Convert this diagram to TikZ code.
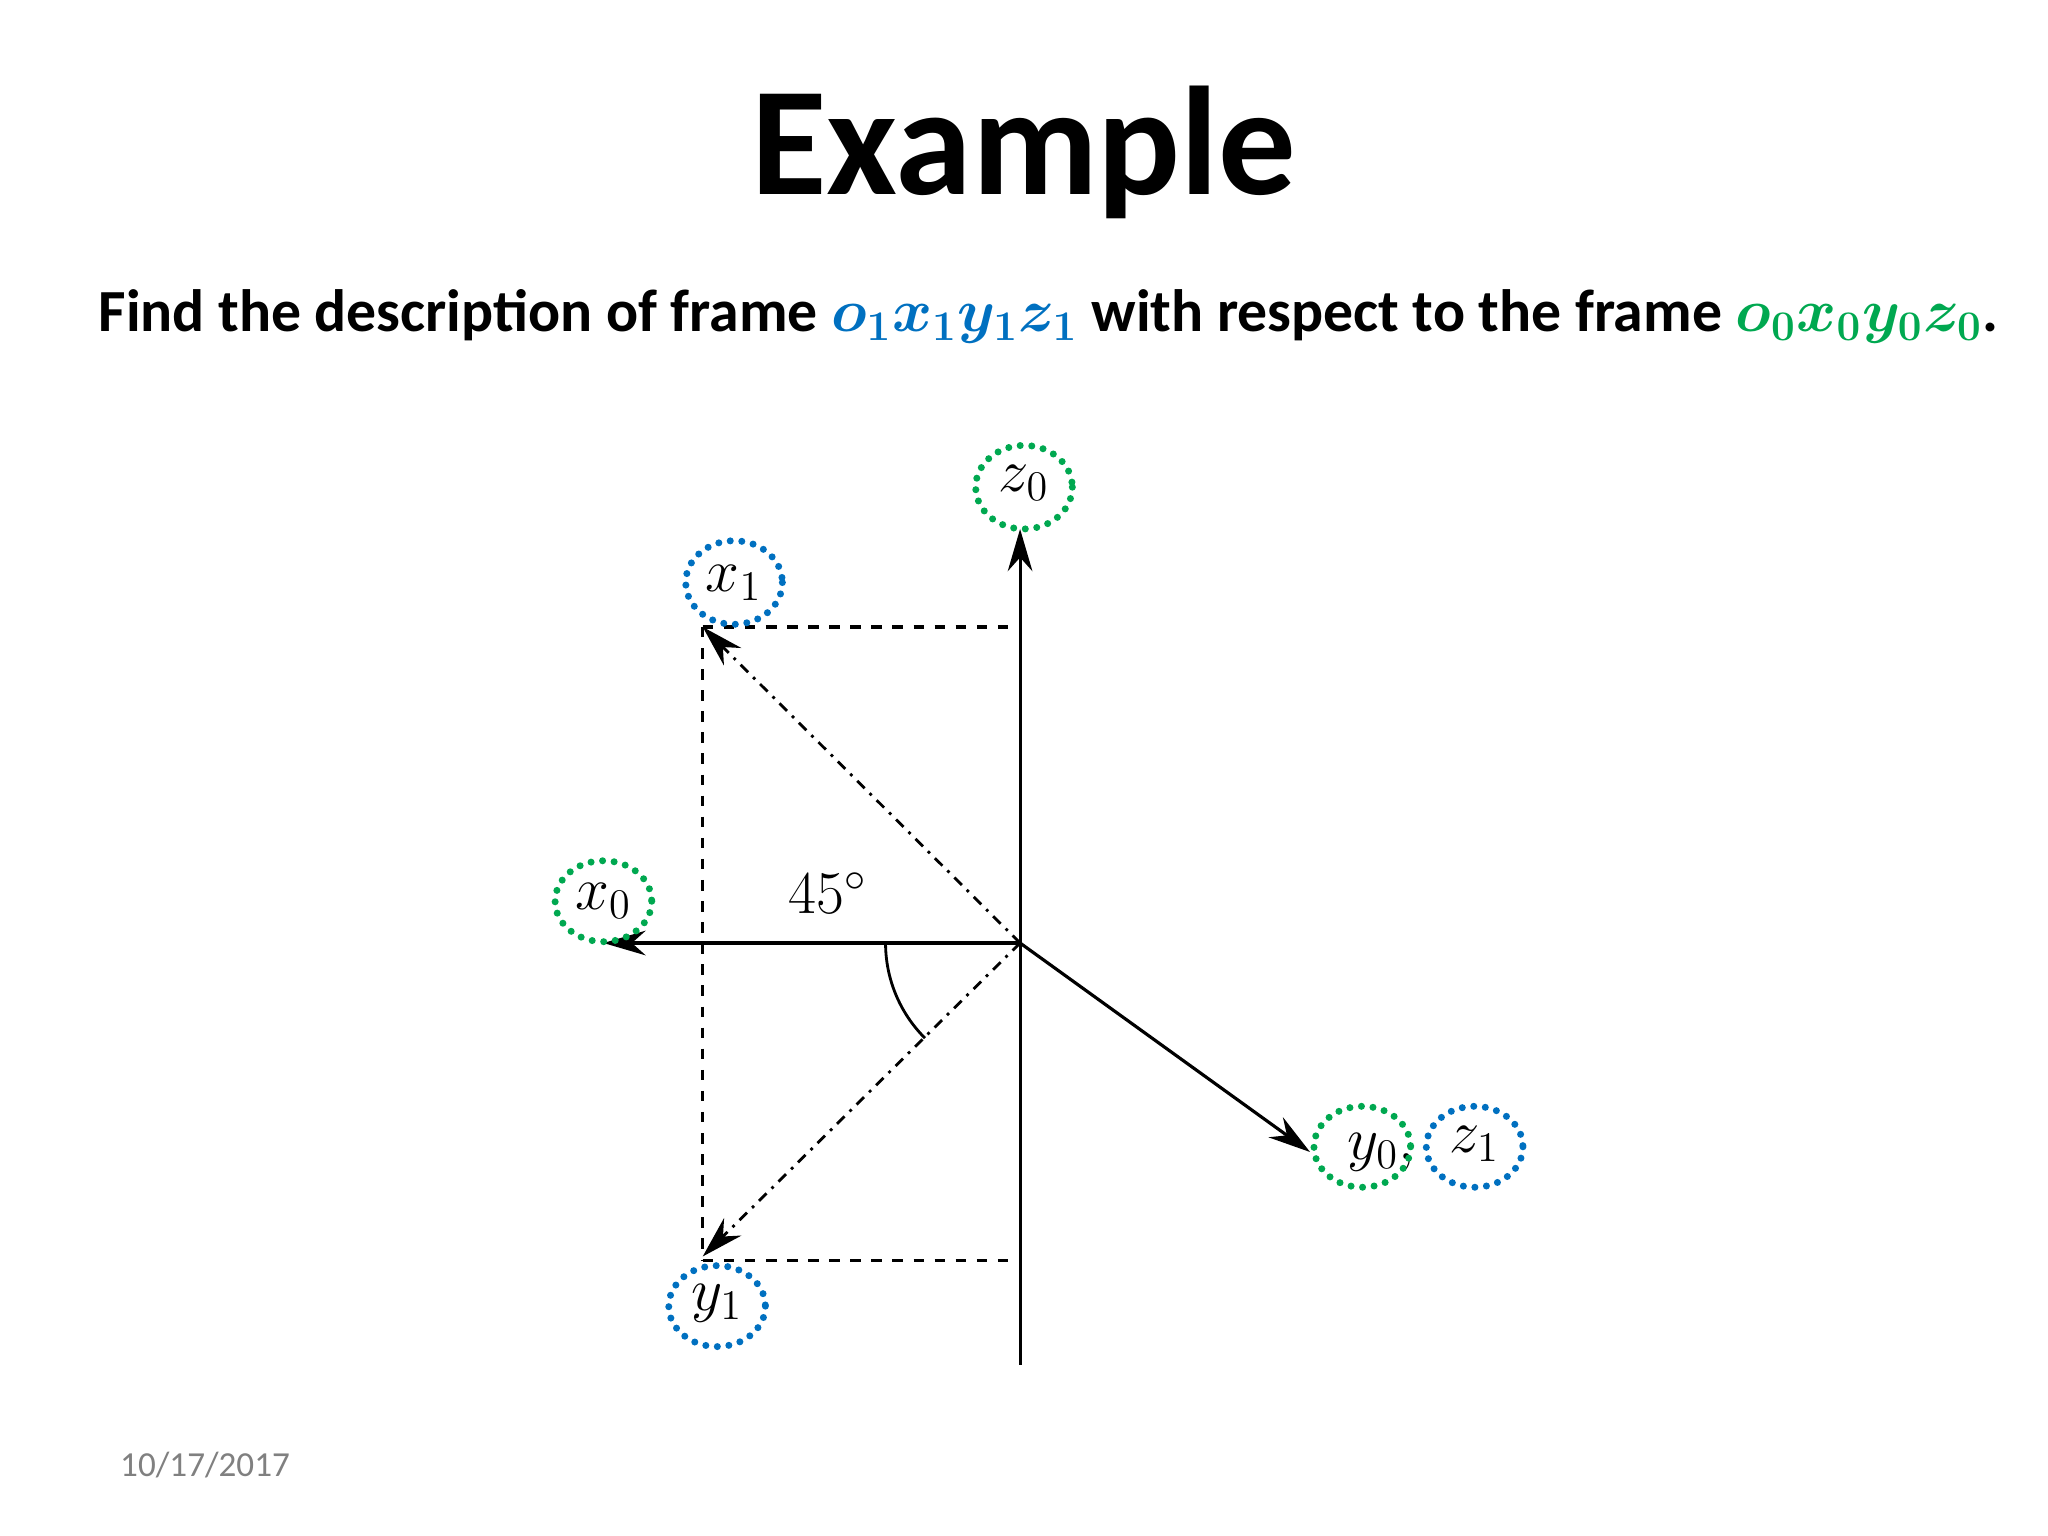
\documentclass[tikz,border=0pt]{standalone}
\usepackage{amsmath,bm}
\usepackage{fontspec}
\setmainfont{Carlito}
\usetikzlibrary{arrows.meta}
\definecolor{fgreen}{RGB}{0,168,80}
\definecolor{fblue}{RGB}{0,112,192}
\begin{document}
\begin{tikzpicture}[x=0.01306cm,y=-0.01306cm,
  ax/.style={line width=0.9pt,-{Stealth[length=12pt,width=7pt]}},
  dd/.style={line width=0.8pt,dash dot,-{Stealth[length=12pt,width=7pt]}},
  dt/.style={line width=1pt,dash pattern=on 3pt off 3pt},
  ring/.style={draw,line width=2pt,dash pattern=on 0pt off 3.2pt,line cap=round,ellipse,minimum width=74\pgflinewidth,inner sep=0pt},
  lab/.style={font=\fontsize{17}{17}\selectfont}]
\useasboundingbox (0,0) rectangle (1568,1176);
\node[font=\fontsize{44}{44}\selectfont\bfseries] (title) at (784,117) {Example};
\node[anchor=west,font=\fontsize{17}{17}\selectfont\bfseries] (sub) at (66,242) {Find the description of frame \textcolor{fblue}{$\bm{o_1x_1y_1z_1}$} with respect to the frame \textcolor{fgreen}{$\bm{o_0x_0y_0z_0}$}.};
\node[text=gray,font=\fontsize{10}{10}\selectfont] (date) at (157,1122) {10/17/2017};
\coordinate (O) at (781,722);
\coordinate (B) at (781,1045);
\coordinate (Z) at (781,405);
\coordinate (X0) at (462,722);
\coordinate (Y0) at (1003,882);
\coordinate (X1) at (538,480);
\coordinate (Y1) at (538,962);
\coordinate (X1r) at (781,480);
\coordinate (Y1a) at (538,965);
\coordinate (Y1r) at (775,965);
\draw[line width=0.9pt] (B) -- (O);
\draw[ax] (O) -- (Z);
\draw[ax] (O) -- (X0);
\draw[ax] (O) -- (Y0);
\draw[dd] (O) -- (X1);
\draw[dd] (O) -- (Y1);
\draw[dt] (X1) -- (X1r);
\draw[dt] (X1) -- (Y1a);
\draw[dt] (Y1a) -- (Y1r);
\draw[line width=0.8pt] (678,722) arc[start angle=180,end angle=135,radius=103];
\node[lab] (ang) at (634,684) {$45^\circ$};
\node[lab] (z0) at (784,370) {$z_0$};
\node[lab] (x0) at (462,690) {$x_0$};
\node[lab] (x1) at (562,446) {$x_1$};
\node[lab] (y1) at (549,998) {$y_1$};
\node[lab,anchor=base west] (y0) at (1022,888) {$y_0,$};
\node[lab] (z1) at (1129,876) {$z_1$};
\draw[fgreen,line width=2pt,dash pattern=on 0pt off 3.3pt,line cap=round] (784,373) ellipse[x radius=37,y radius=32];
\draw[fgreen,line width=2pt,dash pattern=on 0pt off 3.3pt,line cap=round] (462,690) ellipse[x radius=37,y radius=31];
\draw[fgreen,line width=2pt,dash pattern=on 0pt off 3.3pt,line cap=round] (1043,878) ellipse[x radius=37,y radius=31];
\draw[fblue,line width=2pt,dash pattern=on 0pt off 3.3pt,line cap=round] (562,446) ellipse[x radius=37,y radius=32];
\draw[fblue,line width=2pt,dash pattern=on 0pt off 3.3pt,line cap=round] (549,1000) ellipse[x radius=37,y radius=31];
\draw[fblue,line width=2pt,dash pattern=on 0pt off 3.3pt,line cap=round] (1129,878) ellipse[x radius=37,y radius=31];
\end{tikzpicture}
\end{document}
